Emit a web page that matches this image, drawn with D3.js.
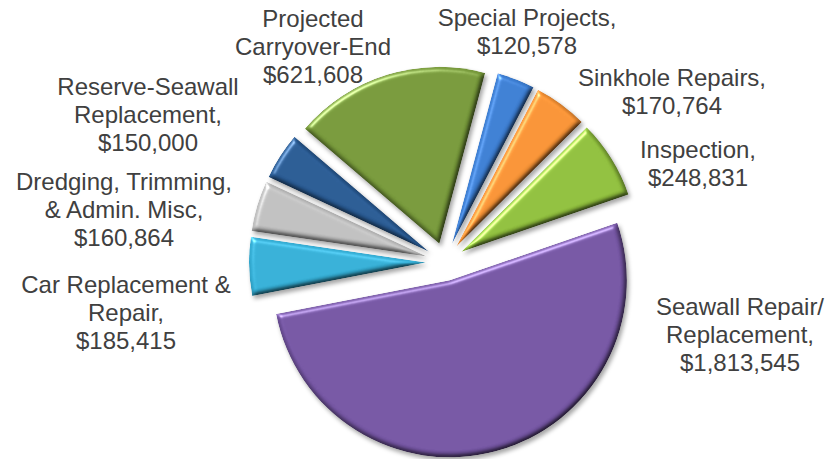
<!DOCTYPE html>
<html>
<head>
<meta charset="utf-8">
<script src="https://cdn.jsdelivr.net/npm/d3@7"></script>
<style>
  html, body { margin: 0; padding: 0; background: #ffffff; }
  svg { display: block; }
  .lbl { font-family: "Liberation Sans", Arial, sans-serif; font-size: 24px; fill: #404040; }
</style>
</head>
<body>
<svg id="chart" width="832" height="459"></svg>
<script>
// Budget allocation by category
const categories = [
  "Special Projects",
  "Sinkhole Repairs",
  "Inspection",
  "Seawall Repair/Replacement",
  "Car Replacement & Repair",
  "Dredging, Trimming, & Admin. Misc",
  "Reserve-Seawall Replacement",
  "Projected Carryover-End"
];
const values = [120578, 170764, 248831, 1813545, 185415, 160864, 150000, 621608];

// How each data label wraps (the value line is appended below)
const labelLines = [
  ["Special Projects,"],
  ["Sinkhole Repairs,"],
  ["Inspection,"],
  ["Seawall Repair/", "Replacement,"],
  ["Car Replacement &", "Repair,"],
  ["Dredging, Trimming,", "& Admin. Misc,"],
  ["Reserve-Seawall", "Replacement,"],
  ["Projected", "Carryover-End"]
];

const sliceColors = ["#3a7bcf", "#f49033", "#8dbc3b", "#7253a0", "#33acd3", "#bcbcbc", "#275890", "#749638"];

// Label anchors: centre x and first baseline y
const labelAnchors = [
  [527, 26], [672, 86], [698, 158], [740, 315],
  [126, 293], [124, 190], [148, 95], [313, 27]
];

const data = categories.map((c, i) => ({ name: c, value: values[i], lines: labelLines[i], color: sliceColors[i] }));

const svg = d3.select("#chart");
const cx = 445, cy = 262, radius = 177, explode = 19, lineH = 28;
const startDeg = 15;

// Bevel + drop shadow filter
const defs = svg.append("defs");
const f = defs.append("filter").attr("id", "bevel")
  .attr("filterUnits", "userSpaceOnUse")
  .attr("x", -500).attr("y", -400).attr("width", 1000).attr("height", 800)
  .attr("color-interpolation-filters", "sRGB");
f.append("feGaussianBlur").attr("in", "SourceAlpha").attr("stdDeviation", 2.5).attr("result", "blur");
const diff = f.append("feDiffuseLighting").attr("in", "blur").attr("surfaceScale", 3)
  .attr("diffuseConstant", 1.15).attr("lighting-color", "#ffffff").attr("result", "diff");
diff.append("feDistantLight").attr("azimuth", 235).attr("elevation", 60);
f.append("feComposite").attr("in", "SourceGraphic").attr("in2", "diff")
  .attr("operator", "arithmetic").attr("k1", 1).attr("k2", 0).attr("k3", 0).attr("k4", 0).attr("result", "lit");
const spec = f.append("feSpecularLighting").attr("in", "blur").attr("surfaceScale", 3)
  .attr("specularConstant", 0.8).attr("specularExponent", 30).attr("lighting-color", "#ffffff").attr("result", "spec");
spec.append("feDistantLight").attr("azimuth", 235).attr("elevation", 40);
f.append("feComposite").attr("in", "spec").attr("in2", "SourceAlpha").attr("operator", "in").attr("result", "specIn");
f.append("feComposite").attr("in", "lit").attr("in2", "specIn")
  .attr("operator", "arithmetic").attr("k1", 0).attr("k2", 1).attr("k3", 0.6).attr("k4", 0).attr("result", "bev");
f.append("feComposite").attr("in", "bev").attr("in2", "SourceAlpha").attr("operator", "in").attr("result", "bevIn");
f.append("feGaussianBlur").attr("in", "SourceAlpha").attr("stdDeviation", 2).attr("result", "sb");
f.append("feOffset").attr("in", "sb").attr("dx", 1.5).attr("dy", 2.5).attr("result", "so");
f.append("feFlood").attr("flood-color", "#000").attr("flood-opacity", 0.35).attr("result", "sc");
f.append("feComposite").attr("in", "sc").attr("in2", "so").attr("operator", "in").attr("result", "shadow");
const merge = f.append("feMerge");
merge.append("feMergeNode").attr("in", "shadow");
merge.append("feMergeNode").attr("in", "bevIn");

const pie = d3.pie().value(d => d.value).sort(null)
  .startAngle(startDeg * Math.PI / 180)
  .endAngle((startDeg + 360) * Math.PI / 180);
const arc = d3.arc().innerRadius(0).outerRadius(radius);

const arcs = pie(data);

const g = svg.append("g").attr("transform", `translate(${cx},${cy})`);
g.selectAll("path.slice")
  .data(arcs)
  .join("path")
  .attr("class", "slice")
  .attr("transform", d => {
    const mid = (d.startAngle + d.endAngle) / 2;
    return `translate(${explode * Math.sin(mid)},${-explode * Math.cos(mid)})`;
  })
  .attr("d", arc)
  .attr("fill", d => d.data.color)
  .attr("filter", "url(#bevel)");

// Data labels
const fmt = d3.format("$,");
const labels = svg.append("g").selectAll("text")
  .data(arcs)
  .join("text")
  .attr("class", "lbl")
  .attr("text-anchor", "middle")
  .attr("x", (d, i) => labelAnchors[i][0])
  .attr("y", (d, i) => labelAnchors[i][1]);
labels.each(function (d, i) {
  const t = d3.select(this);
  const lines = d.data.lines.concat([fmt(d.data.value)]);
  lines.forEach((ln, k) => {
    t.append("tspan")
      .attr("x", labelAnchors[i][0])
      .attr("dy", k === 0 ? 0 : lineH)
      .text(ln);
  });
});
</script>
</body>
</html>
